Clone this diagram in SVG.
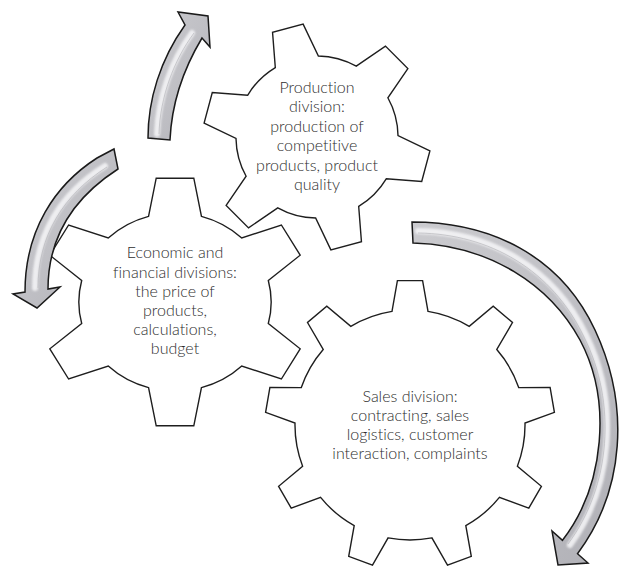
<svg xmlns="http://www.w3.org/2000/svg" width="622" height="570" viewBox="0 0 622 570">
<style>
.gear{fill:#ffffff;stroke:#1e1e1e;stroke-width:1.4;stroke-linejoin:miter;vector-effect:non-scaling-stroke}
.lbl{font-family:Lato,"Liberation Sans",sans-serif;font-size:16px;font-weight:300;fill:#2e2e2e;text-anchor:middle;font-variant-ligatures:none}
.arrow{fill:url(#arrowGrad);stroke:#1a1a1a;stroke-width:1.5;stroke-linejoin:miter}
.hl{fill:none;stroke:#f6f6f8;stroke-width:6;stroke-linecap:round;opacity:0.85;filter:url(#soft)}
.hl2{fill:none;stroke:#b9b9be;stroke-width:1;opacity:0.7}
</style>
<defs>
<linearGradient id="arrowGrad" x1="0" y1="0" x2="1" y2="1">
<stop offset="0" stop-color="#cbcbcf"/>
<stop offset="0.5" stop-color="#c0c0c5"/>
<stop offset="1" stop-color="#b0b0b6"/>
</linearGradient>
<filter id="soft" x="-20%" y="-20%" width="140%" height="140%">
<feGaussianBlur stdDeviation="1.2"/>
</filter>
</defs>
<rect width="622" height="570" fill="#ffffff"/>

<g id="gear-production">
<path class="gear" transform="translate(317,137) rotate(-15) scale(0.91)" d="M -24.5,-85.6 L -17.4,-123.8 L 17.4,-123.8 L 24.5,-85.6 A 89 89 0 0 1 61.8,-64 L 98.5,-77 L 115.9,-46.8 L 86.4,-21.5 A 89 89 0 0 1 86.4,21.5 L 115.9,46.8 L 98.5,77 L 61.8,64 A 89 89 0 0 1 24.5,85.6 L 17.4,123.8 L -17.4,123.8 L -24.5,85.6 A 89 89 0 0 1 -61.8,64 L -98.5,77 L -115.9,46.8 L -86.4,21.5 A 89 89 0 0 1 -86.4,-21.5 L -115.9,-46.8 L -98.5,-77 L -61.8,-64 A 89 89 0 0 1 -24.5,-85.6 Z"/>
<text class="lbl" x="317" y="93">Production</text>
<text class="lbl" x="317" y="112.4">division:</text>
<text class="lbl" x="317" y="131.8">production of</text>
<text class="lbl" x="317" y="151.2">competitive</text>
<text class="lbl" x="317" y="170.6">products, product</text>
<text class="lbl" x="317" y="190">quality</text>
</g>

<g id="gear-economic">
<path class="gear" transform="translate(175,302) scale(1.08,1)" d="M -24.5,-85.6 L -17.4,-123.8 L 17.4,-123.8 L 24.5,-85.6 A 89 89 0 0 1 61.8,-64 L 98.5,-77 L 115.9,-46.8 L 86.4,-21.5 A 89 89 0 0 1 86.4,21.5 L 115.9,46.8 L 98.5,77 L 61.8,64 A 89 89 0 0 1 24.5,85.6 L 17.4,123.8 L -17.4,123.8 L -24.5,85.6 A 89 89 0 0 1 -61.8,64 L -98.5,77 L -115.9,46.8 L -86.4,21.5 A 89 89 0 0 1 -86.4,-21.5 L -115.9,-46.8 L -98.5,-77 L -61.8,-64 A 89 89 0 0 1 -24.5,-85.6 Z"/>
<text class="lbl" x="175" y="258.3">Economic and</text>
<text class="lbl" x="175" y="277.5">financial divisions:</text>
<text class="lbl" x="175" y="296.7">the price of</text>
<text class="lbl" x="175" y="315.9">products,</text>
<text class="lbl" x="175" y="335.1">calculations,</text>
<text class="lbl" x="175" y="354.3">budget</text>
</g>

<g id="gear-sales">
<path class="gear" transform="translate(410,425)" d="M -18,-113.6 L -12.6,-144.4 L 12.6,-144.4 L 18,-113.6 A 115 115 0 0 1 59.2,-98.6 L 83.2,-118.8 L 102.5,-102.5 L 86.8,-75.5 A 115 115 0 0 1 108.7,-37.4 L 140.1,-37.5 L 144.4,-12.6 L 115,-2 A 115 115 0 0 1 107.4,41.2 L 131.4,61.3 L 118.8,83.2 L 89.4,72.4 A 115 115 0 0 1 55.8,100.6 L 61.3,131.4 L 37.5,140.1 L 21.9,112.9 A 115 115 0 0 1 -21.9,112.9 L -37.5,140.1 L -61.3,131.4 L -55.8,100.6 A 115 115 0 0 1 -89.4,72.4 L -118.8,83.2 L -131.4,61.3 L -107.4,41.2 A 115 115 0 0 1 -115,-2 L -144.4,-12.6 L -140.1,-37.5 L -108.7,-37.4 A 115 115 0 0 1 -86.8,-75.5 L -102.5,-102.5 L -83.2,-118.8 L -59.2,-98.6 A 115 115 0 0 1 -18,-113.6 Z"/>
<text class="lbl" x="410" y="401.7">Sales division:</text>
<text class="lbl" x="410" y="420.8">contracting, sales</text>
<text class="lbl" x="410" y="439.9">logistics, customer</text>
<text class="lbl" x="410" y="459">interaction, complaints</text>
</g>

<g id="connectors">
<g id="arrow-top">
<path class="arrow" d="M 148,138 C 148,100 160,60 185,25 L 178,12 L 208,16 L 210,47 L 202,38 C 190,58 172,95 170,140 Z"/>
<path class="hl" d="M 157,134 C 158,97 172,60 192,33"/>
<path class="hl2" d="M 159,134 C 160,97 174,60 194,33"/>
</g>
<g id="arrow-left">
<path class="arrow" d="M 97,158 C 55,185 25,230 25,292 L 13,294 L 37,308 L 60,287 L 48,289 C 48,240 70,200 118,169 L 114,149 Z"/>
<path class="hl" d="M 105,166 C 61,193 35,235 35,288"/>
<path class="hl2" d="M 107,167 C 63,195 38,236 38,288"/>
</g>
<g id="arrow-right">
<path class="arrow" d="M 412,222 C 490,222 560,255 595,330 C 630,405 625,490 577.5,553.7 L 588,563 L 558,565 L 552,531 L 562.5,540.3 C 605,485 612,400 580,340 C 550,285 490,245 413,243 Z"/>
<path class="hl" d="M 418,231 C 490,232 554,268 586,335 C 619,402 613,486 570,545"/>
<path class="hl2" d="M 418,233 C 490,234 552,270 584,337 C 617,403 611,486 568,544"/>
</g>
</g>
</svg>
